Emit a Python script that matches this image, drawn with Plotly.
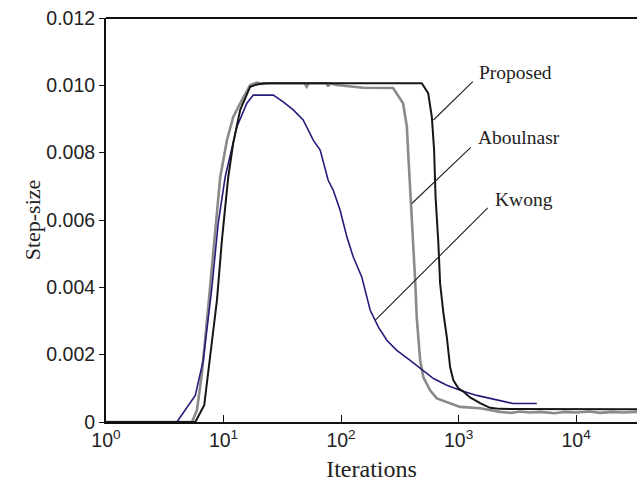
import numpy as np
import plotly.graph_objects as go

# Step-size trajectories (iteration count, step-size)
proposed_n = [1, 5.75, 6.85, 7.71, 8.79, 9.69, 10.96, 12.08, 13.87, 16.87, 18.97, 22, 486,
              551, 592, 619, 637, 673, 696, 743, 794, 847, 903, 996, 1092, 1253, 1523,
              1853, 2254, 33000]
proposed_mu = [0, 0, 0.000496, 0.00192, 0.00362, 0.00540, 0.00727, 0.00828, 0.00927, 0.00996,
               0.01002, 0.01006, 0.01006,
               0.00977, 0.00906, 0.00808, 0.00668, 0.00531, 0.00412, 0.00323, 0.00252, 0.00163,
               0.00124, 0.00100, 0.00091, 0.00073, 0.00056, 0.00042, 0.00039, 0.00038]

aboulnasr_n = [1, 5.39, 5.94, 6.55, 7.41, 8.50, 9.37, 10.69, 12.09, 14.33, 16.87, 19.23, 21.3,
               24.9, 49, 51, 53, 75, 77.7, 80, 92, 154, 277, 337, 363, 372, 387, 403, 427, 441,
               471, 502, 572, 653, 847, 1030, 1523, 2254, 2800, 3300, 4000, 5000, 6500, 8000,
               10000, 13000, 16000, 20000, 25000, 33000]
aboulnasr_mu = [0, 0, 0.00035, 0.00145, 0.00341, 0.00561, 0.00727, 0.00837, 0.00906, 0.00956,
                0.01001, 0.01008, 0.01004, 0.01006, 0.01006, 0.00996, 0.01006, 0.01006, 0.00997,
                0.01006, 0.01001, 0.00993, 0.00992, 0.00947, 0.00877, 0.00803, 0.00699, 0.00561,
                0.00421, 0.00308, 0.00183, 0.00133, 0.00094, 0.00070, 0.00055, 0.00045, 0.00041,
                0.00030, 0.00027, 0.00031, 0.00028, 0.00030, 0.00026, 0.00030, 0.00028, 0.00031,
                0.00027, 0.00030, 0.00028, 0.00030]

kwong_n = [1, 4.01, 5.75, 6.72, 7.97, 9.01, 10.33, 13.0, 15.8, 17.9, 26.5, 32.2, 39.2, 47.6,
           58.0, 66.4, 77.7, 85.7, 98.2, 112, 127, 150, 177, 208, 245, 298, 387, 471, 611, 794,
           1030, 1428, 2254, 2905, 4624]
kwong_mu = [0, 0, 0.00079, 0.00183, 0.00401, 0.00591, 0.00728, 0.00877, 0.00947, 0.00971,
            0.00971, 0.00951, 0.00927, 0.00897, 0.00837, 0.00808, 0.00718, 0.00689, 0.00629,
            0.00550, 0.00490, 0.00431, 0.00332, 0.00282, 0.00243, 0.00213, 0.00183, 0.00159,
            0.00129, 0.00109, 0.00094, 0.00079, 0.00065, 0.00055, 0.00055]

# Curve labels: name, text anchor (n, mu), leader line start and end (n, mu)
labels = ["Proposed", "Aboulnasr", "Kwong"]
label_n = [1436, 1409, 1965]
label_mu = [0.01037, 0.00846, 0.00662]
leader_start_n = [1321, 1270, 1771]
leader_start_mu = [0.01011, 0.00816, 0.00636]
leader_end_n = [611, 400, 195]
leader_end_mu = [0.00897, 0.00649, 0.00302]

x_tickvals = [1, 10, 100, 1000, 10000]
x_ticktext = ["10<sup>0</sup>", "10<sup>1</sup>", "10<sup>2</sup>", "10<sup>3</sup>", "10<sup>4</sup>"]
y_tickvals = [0, 0.002, 0.004, 0.006, 0.008, 0.010, 0.012]
y_ticktext = ["0", "0.002", "0.004", "0.006", "0.008", "0.010", "0.012"]

SANS = "Liberation Sans, Arial, sans-serif"
SERIF = "Liberation Serif, Times New Roman, serif"

fig = go.Figure()
fig.add_trace(go.Scatter(x=aboulnasr_n, y=aboulnasr_mu, mode="lines",
                         line=dict(color="#8a8a8a", width=2.6), name="Aboulnasr"))
fig.add_trace(go.Scatter(x=kwong_n, y=kwong_mu, mode="lines",
                         line=dict(color="#231d7a", width=1.6), name="Kwong"))
fig.add_trace(go.Scatter(x=proposed_n, y=proposed_mu, mode="lines",
                         line=dict(color="#161616", width=2.0), name="Proposed"))

for i, txt in enumerate(labels):
    fig.add_trace(go.Scatter(x=[leader_start_n[i], leader_end_n[i]],
                             y=[leader_start_mu[i], leader_end_mu[i]], mode="lines",
                             line=dict(color="#222222", width=1.1), hoverinfo="skip"))
    fig.add_annotation(x=np.log10(label_n[i]), y=label_mu[i], xref="x", yref="y",
                       text=txt, showarrow=False, xanchor="left", yanchor="middle",
                       font=dict(family=SERIF, size=19.5, color="#222222"))

# top frame line
fig.add_shape(type="line", xref="paper", yref="paper", x0=0, x1=1, y0=1, y1=1,
              line=dict(color="#111111", width=2))

fig.update_layout(
    width=637, height=488,
    margin=dict(l=106, r=0, t=18, b=66),
    paper_bgcolor="white", plot_bgcolor="white",
    showlegend=False,
    xaxis=dict(type="log", range=[0, 4.518], tickvals=x_tickvals, ticktext=x_ticktext,
               ticks="inside", ticklen=7, tickwidth=1.2, tickcolor="#111111",
               showline=True, linecolor="#111111", linewidth=2, showgrid=False, zeroline=False,
               tickfont=dict(family=SANS, size=19.5, color="#222222"),
               title=dict(text="Iterations", font=dict(family=SERIF, size=24, color="#222222"),
                          standoff=10)),
    yaxis=dict(range=[0, 0.012], tickvals=y_tickvals, ticktext=y_ticktext,
               ticks="outside", ticklen=5, tickwidth=1.2, tickcolor="#111111",
               showline=True, linecolor="#111111", linewidth=2, showgrid=False, zeroline=False,
               tickfont=dict(family=SANS, size=19.5, color="#222222"),
               title=dict(text="Step-size", font=dict(family=SERIF, size=22, color="#222222"),
                          standoff=0)),
)

fig.write_html("out.html")
